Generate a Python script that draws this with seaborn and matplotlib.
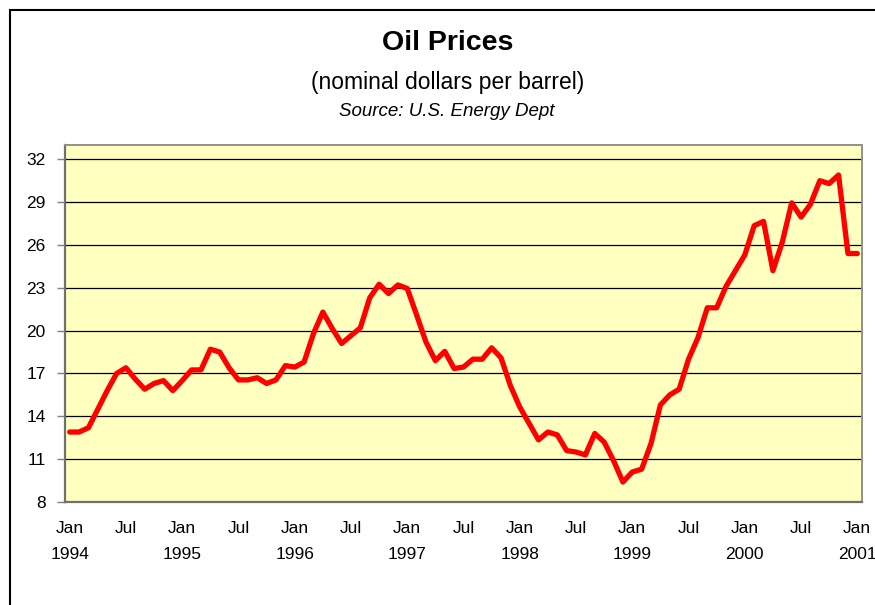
import matplotlib
matplotlib.use("Agg")
import matplotlib.pyplot as plt
from matplotlib.patches import Rectangle
import numpy as np
import pandas as pd
import seaborn as sns

# monthly prices, Jan 1994 .. Jan 2001
prices = [12.9, 12.9, 13.2, 14.5, 15.8, 17.0, 17.4, 16.6, 15.9, 16.3, 16.5, 15.8,
          16.5, 17.25, 17.25, 18.7, 18.5, 17.4, 16.55, 16.55, 16.7, 16.3, 16.55, 17.55,
          17.45, 17.8, 19.8, 21.3, 20.15, 19.1, 19.65, 20.2, 22.3, 23.25, 22.6, 23.2,
          22.95, 21.1, 19.2, 17.9, 18.55, 17.35, 17.45, 18.0, 18.0, 18.8, 18.1, 16.15,
          14.65, 13.5, 12.35, 12.9, 12.7, 11.6, 11.5, 11.3, 12.8, 12.2, 10.9, 9.4,
          10.1, 10.3, 12.1, 14.8, 15.5, 15.9, 18.0, 19.5, 21.6, 21.6, 23.1, 24.2,
          25.3, 27.35, 27.65, 24.2, 26.2, 28.95, 27.95, 28.85, 30.5, 30.3, 30.9, 25.4,
          25.4]
years = ['1994', '1995', '1996', '1997', '1998', '1999', '2000', '2001']
y_ticks = [8, 11, 14, 17, 20, 23, 26, 29, 32]

df = pd.DataFrame({'month': np.arange(len(prices)), 'price': prices})

x_labels = []
for y in years:
    x_labels.append('Jan\n' + y)
    x_labels.append('Jul')
x_labels = x_labels[:-1]

sns.set_style('white')
plt.rcParams['font.family'] = ['Liberation Sans', 'DejaVu Sans']
plt.rcParams['text.color'] = 'black'
plt.rcParams['xtick.labelcolor'] = 'black'
plt.rcParams['ytick.labelcolor'] = 'black'

fig = plt.figure(figsize=(8.75, 6.05), dpi=100)
ax = fig.add_axes([65/875, 1-502/605, (862-65)/875, (502-145)/605])
ax.set_facecolor('#FFFFC0')

sns.lineplot(data=df, x='month', y='price', color='#FF0000', linewidth=3.8, ax=ax)

ax.set_xlim(-0.5, len(prices) - 0.5)
ax.set_ylim(8, 33)
ax.set_yticks(y_ticks)
ax.set_yticklabels([str(v) for v in y_ticks], fontsize=12.5)
ax.set_xticks(np.arange(0, len(prices), 6))
ax.set_xticklabels(x_labels, fontsize=12.5, linespacing=1.85)
ax.set_xticks(np.arange(-0.5, len(prices), 1), minor=True)
ax.tick_params(axis='x', which='major', length=0, pad=14)
ax.tick_params(axis='x', which='minor', length=5, width=1, color='#808080', direction='out')
ax.tick_params(axis='y', length=6, width=1, color='#808080', pad=8, left=True)
ax.set_xlabel('')
ax.set_ylabel('')
ax.yaxis.grid(True, color='black', linewidth=0.9)
ax.set_axisbelow(True)

for side in ['left', 'bottom']:
    ax.spines[side].set_color('#707070')
    ax.spines[side].set_linewidth(1.6)
for side in ['top', 'right']:
    ax.spines[side].set_color('#909090')
    ax.spines[side].set_linewidth(1.4)

fig.text(448/875, 1-43/605, 'Oil Prices', ha='center', va='center',
         fontsize=20.5, fontweight='bold')
fig.text(448/875, 1-82/605, '(nominal dollars per barrel)', ha='center', va='center',
         fontsize=16.5)
fig.text(447/875, 1-111/605, 'Source: U.S. Energy Dept', ha='center', va='center',
         fontsize=13.5, style='italic')

# outer chart frame (runs off the right and bottom edges)
fig.patches.append(Rectangle((10/875, -0.1), 1.0, 1-10/605 + 0.1, transform=fig.transFigure,
                             fill=False, edgecolor='black', linewidth=1.5))

fig.savefig('out.png', dpi=100)
